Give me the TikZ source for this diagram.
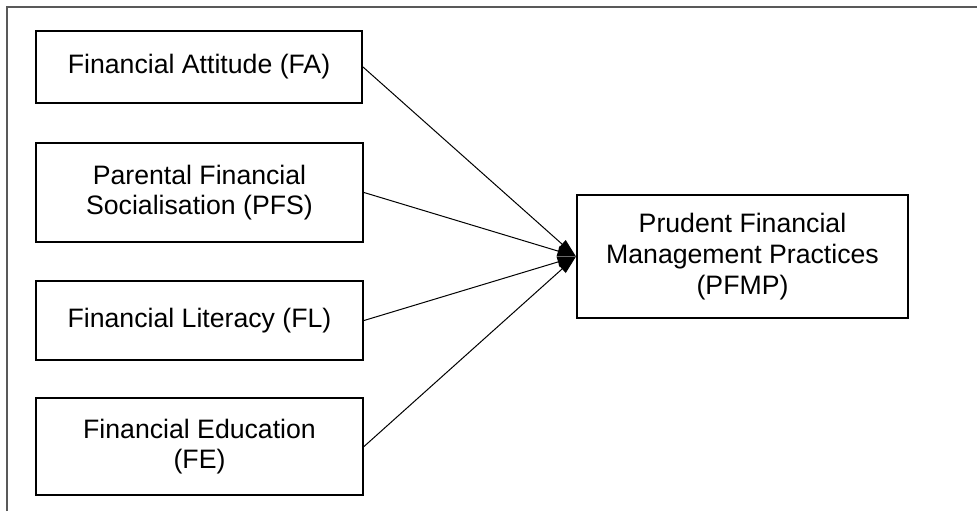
\documentclass[tikz,border=0pt]{standalone}
\usepackage{fontspec}
\setmainfont{Liberation Sans}
\usetikzlibrary{arrows.meta}
\begin{document}
\begin{tikzpicture}[x=0.75pt,y=-0.75pt,
  box/.style={draw, line width=1.5pt, align=center, inner sep=0pt, font=\fontsize{20}{23}\selectfont},
  conn/.style={line width=0.75pt, -{Triangle[length=14pt,width=8pt]}},
  frame/.style={line width=2pt, black!65}]
\useasboundingbox (0,0) rectangle (977,511);
\draw[frame] (7,511) -- (7,7) -- (977,7);
\node[box, minimum width=244.5pt, minimum height=54pt] (fa) at (199,67) {Financial Attitude (FA)};
\node[box, minimum width=245.25pt, minimum height=74.25pt] (pfs) at (199.5,192.5) {Parental Financial\\Socialisation (PFS)};
\node[box, minimum width=245.25pt, minimum height=59.25pt] (fl) at (199.5,320.5) {Financial Literacy (FL)};
\node[box, minimum width=245.25pt, minimum height=72.75pt] (fe) at (199.5,446.5) {Financial Education\\(FE)};
\node[box, minimum width=248.25pt, minimum height=92.25pt] (pfmp) at (742.5,256.5) {Prudent Financial\\Management Practices\\(PFMP)};
\draw[conn] (fa.east) -- (pfmp.west);
\draw[conn] (pfs.east) -- (pfmp.west);
\draw[conn] (fl.east) -- (pfmp.west);
\draw[conn] (fe.east) -- (pfmp.west);
\end{tikzpicture}
\end{document}
